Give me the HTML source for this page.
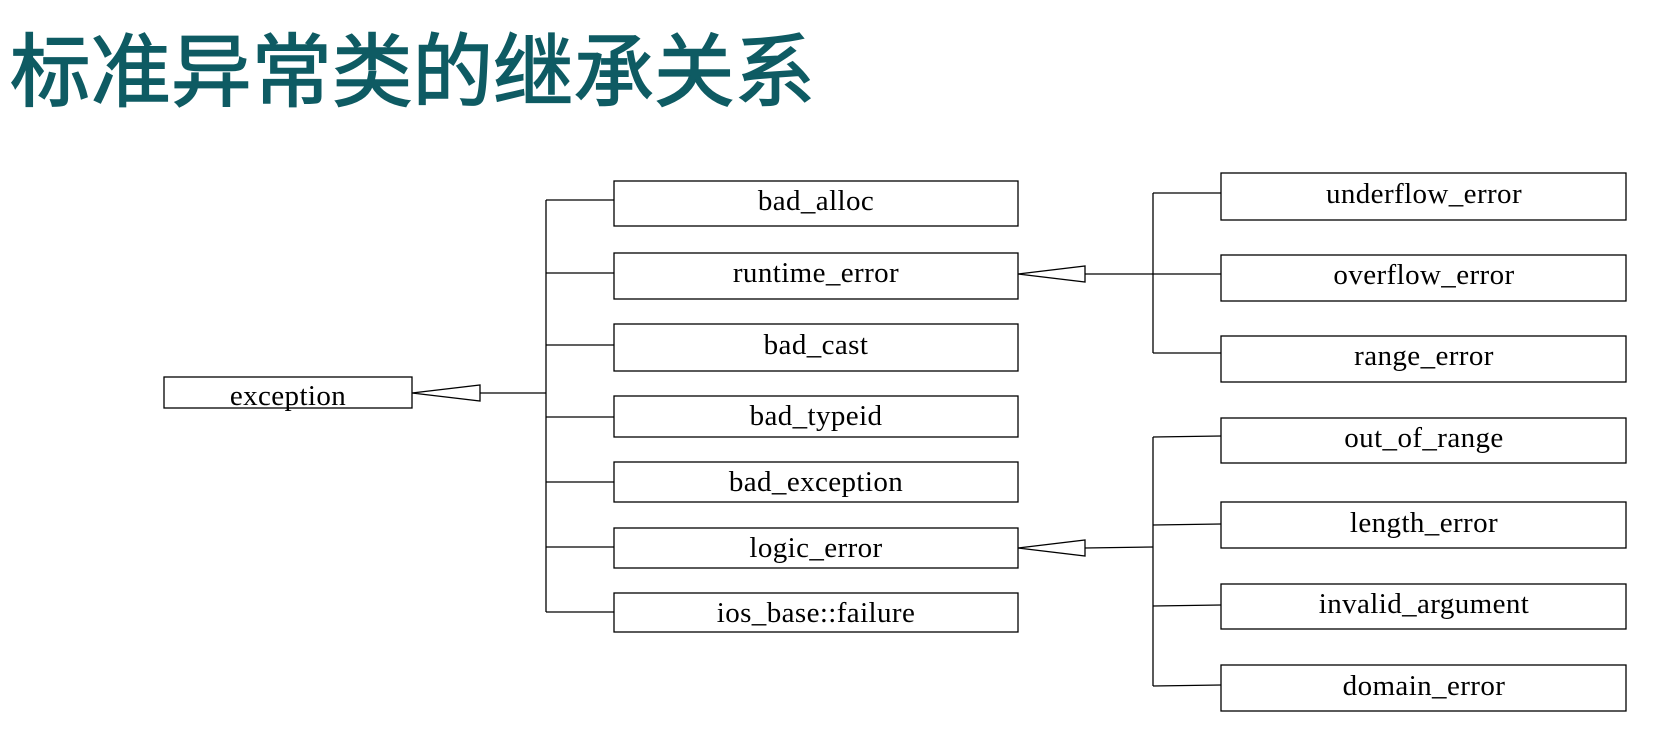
<!DOCTYPE html>
<html><head><meta charset="utf-8"><style>
html,body{margin:0;padding:0;background:#fff;width:1658px;height:745px;overflow:hidden}
</style></head><body>
<svg width="1658" height="745" xmlns="http://www.w3.org/2000/svg">
<text x="10" y="100" font-family="'Noto Sans CJK SC','WenQuanYi Zen Hei',sans-serif" font-size="80" fill="#0e5b63" stroke="#0e5b63" stroke-width="1.5" textLength="805" lengthAdjust="spacingAndGlyphs">标准异常类的继承关系</text>
<g stroke="#000" stroke-width="1.3" fill="none">
<rect x="164" y="377" width="248" height="31"/>
<polygon points="412,393 480,385 480,401"/>
<line x1="480" y1="393" x2="546" y2="393"/>
<line x1="546" y1="200" x2="546" y2="612"/>
<line x1="546" y1="200" x2="614" y2="200"/>
<line x1="546" y1="273" x2="614" y2="273"/>
<line x1="546" y1="345" x2="614" y2="345"/>
<line x1="546" y1="417" x2="614" y2="417"/>
<line x1="546" y1="482" x2="614" y2="482"/>
<line x1="546" y1="547" x2="614" y2="547"/>
<line x1="546" y1="612" x2="614" y2="612"/>
<rect x="614" y="181" width="404" height="45"/>
<rect x="614" y="253" width="404" height="46"/>
<rect x="614" y="324" width="404" height="47"/>
<rect x="614" y="396" width="404" height="41"/>
<rect x="614" y="462" width="404" height="40"/>
<rect x="614" y="528" width="404" height="40"/>
<rect x="614" y="593" width="404" height="39"/>
<polygon points="1018,274 1085,266 1085,282"/>
<line x1="1085" y1="274" x2="1221" y2="274"/>
<line x1="1153" y1="193" x2="1153" y2="353"/>
<line x1="1153" y1="193" x2="1221" y2="193"/>
<line x1="1153" y1="353" x2="1221" y2="353"/>
<polygon points="1018,548 1085,540 1085,556"/>
<line x1="1085" y1="548" x2="1153" y2="547"/>
<line x1="1153" y1="437" x2="1153" y2="686"/>
<line x1="1153" y1="437" x2="1221" y2="436"/>
<line x1="1153" y1="525" x2="1221" y2="524"/>
<line x1="1153" y1="606" x2="1221" y2="605"/>
<line x1="1153" y1="686" x2="1221" y2="685"/>
<rect x="1221" y="173" width="405" height="47"/>
<rect x="1221" y="255" width="405" height="46"/>
<rect x="1221" y="336" width="405" height="46"/>
<rect x="1221" y="418" width="405" height="45"/>
<rect x="1221" y="502" width="405" height="46"/>
<rect x="1221" y="584" width="405" height="45"/>
<rect x="1221" y="665" width="405" height="46"/>
</g>
<g font-family="'Liberation Serif',serif" font-size="29" fill="#000" text-anchor="middle" letter-spacing="0.4">
<text x="288" y="405">exception</text>
<text x="816" y="210">bad_alloc</text>
<text x="816" y="282">runtime_error</text>
<text x="816" y="354">bad_cast</text>
<text x="816" y="425">bad_typeid</text>
<text x="816" y="491">bad_exception</text>
<text x="816" y="557">logic_error</text>
<text x="816" y="622">ios_base::failure</text>
<text x="1424" y="203">underflow_error</text>
<text x="1424" y="284">overflow_error</text>
<text x="1424" y="365">range_error</text>
<text x="1424" y="447">out_of_range</text>
<text x="1424" y="532">length_error</text>
<text x="1424" y="613">invalid_argument</text>
<text x="1424" y="695">domain_error</text>
</g>
</svg>
</body></html>
